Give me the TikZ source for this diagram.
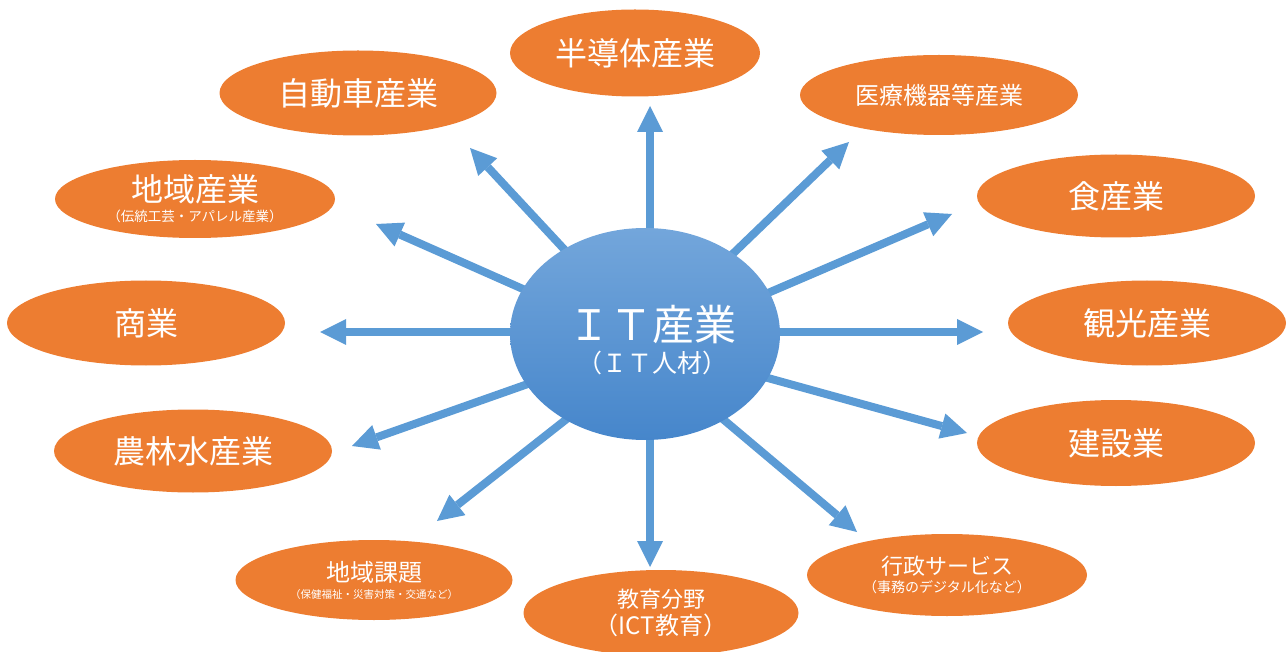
\documentclass[tikz,border=0pt]{standalone}
\usepackage{fontspec}
\setmainfont{Noto Sans CJK JP}
\usetikzlibrary{shapes.geometric,arrows.meta}
\definecolor{org}{HTML}{ED7D31}
\definecolor{arr}{HTML}{5B9BD5}
\definecolor{ctop}{RGB}{115,166,219}
\definecolor{cbot}{RGB}{70,134,203}
\newcommand{\fs}[1]{\fontsize{#1}{#1}\selectfont}
\begin{document}
\begin{tikzpicture}[x=1pt,y=-1pt,
  oell/.style={ellipse, fill=org, draw=none, inner sep=0pt, text=white, align=center,
    minimum width=278pt, minimum height=84pt},
  big/.style={font=\fs{32}},
  conn/.style={draw=arr, line width=8pt, -{Triangle[length=26pt,width=26pt,line width=0pt]}}
]
\useasboundingbox (0,0) rectangle (1288,652);

% arrow coordinates
\coordinate (s1) at (650,270);  \coordinate (t1) at (650,106);
\coordinate (s2) at (602,290);  \coordinate (t2) at (470,148);
\coordinate (s3) at (691,294);  \coordinate (t3) at (849,142);
\coordinate (s4) at (584,316);  \coordinate (t4) at (376,224);
\coordinate (s5) at (705,320);  \coordinate (t5) at (952,214);
\coordinate (s6) at (590,332);  \coordinate (t6) at (320,332);
\coordinate (s7) at (700,332);  \coordinate (t7) at (983,332);
\coordinate (s8) at (593,361);  \coordinate (t8) at (352,446);
\coordinate (s9) at (699,359);  \coordinate (t9) at (967,433);
\coordinate (s10) at (615,381); \coordinate (t10) at (437,521);
\coordinate (s11) at (650,390); \coordinate (t11) at (650,567);
\coordinate (s12) at (680,383); \coordinate (t12) at (857,532);

\foreach \i in {1,...,12} \draw[conn] (s\i) -- (t\i);

% center
\node[ellipse, inner sep=0pt, minimum width=270pt, minimum height=212pt,
  top color=ctop, bottom color=cbot] (c) at (645,334) {};
\node[text=white, align=center, inner sep=0pt] (ct) at (652,340)
  {{\fs{42}ＩＴ産業}\\[6pt]{\fs{25}（ＩＴ人材）}};

% outer nodes
\node[oell, big, minimum width=250pt, minimum height=87pt] (n1) at (635,53) {半導体産業};
\node[oell, big, minimum width=277pt, minimum height=85pt] (n2) at (358,93) {自動車産業};
\node[oell, font=\fs{24}, minimum height=80pt] (n3) at (939,95) {医療機器等産業};
\node[oell, minimum width=280pt, minimum height=78pt] (n4) at (195,199)
  {{\fs{32}地域産業}\\[5pt]{\fs{13.5}（伝統工芸・アパレル産業）}};
\node[oell, big, minimum height=83pt] (n5) at (1116,196) {食産業};
\node[oell, big, minimum height=85pt] (n6) at (146,323) {商業};
\node[oell, big, minimum height=85pt] (n7) at (1147,323) {観光産業};
\node[oell, big, minimum height=83pt] (n8) at (193,451) {農林水産業};
\node[oell, big, minimum height=86pt] (n9) at (1116,443) {建設業};
\node[oell, minimum width=277pt, minimum height=80pt] (n10) at (374,580)
  {{\fs{24}地域課題}\\[5pt]{\fs{10.5}（保健福祉・災害対策・交通など）}};
\node[oell, minimum width=280pt, minimum height=82pt] (n11) at (947,575)
  {{\fs{22}行政サービス}\\[4pt]{\fs{14}（事務のデジタル化など）}};
\node[oell, minimum width=275pt, minimum height=86pt] (n12) at (661,613)
  {{\fs{22}教育分野}\\[4pt]{\fs{24}（ICT教育）}};
\end{tikzpicture}
\end{document}
